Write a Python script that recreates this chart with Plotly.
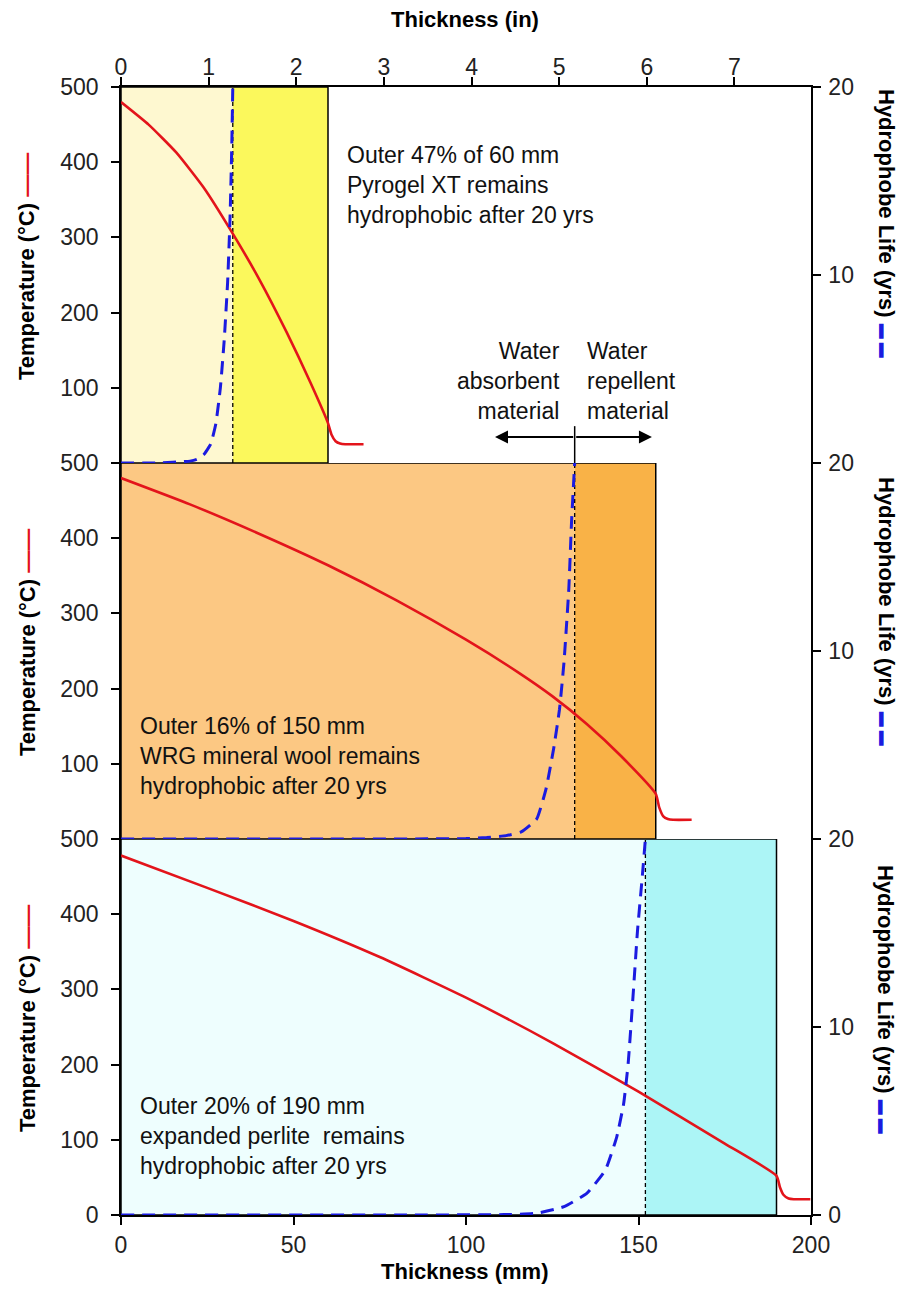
import plotly.graph_objects as go

# ---------------- data ----------------
mm_ticks = [0, 50, 100, 150, 200]
in_ticks = [0, 1, 2, 3, 4, 5, 6, 7]
temp_ticks_full = [0, 100, 200, 300, 400, 500]
life_ticks_full = [0, 10, 20]

# Panel 1 : Pyrogel XT, 60 mm
p1_thickness = 60.0
p1_boundary = 32.4
p1_temp_x = [0, 8, 16, 24, 32, 40, 48, 55, 60, 61, 62.2, 63.5, 65, 70.3]
p1_temp_y = [480, 450, 413, 366, 308, 245, 174, 106, 53, 38, 29, 26, 25, 25]
p1_life_x = [0, 10, 20, 22, 24, 26, 27.5, 28.8, 29.9, 30.9, 31.6, 32.1, 32.4]
p1_life_y = [0, 0, 0.1, 0.2, 0.45, 1.0, 2.1, 4.0, 6.5, 9.6, 13.0, 16.8, 20]
p1_text = "Outer 47% of 60 mm<br>Pyrogel XT remains<br>hydrophobic after 20 yrs"

# Panel 2 : WRG mineral wool, 150 mm
p2_thickness = 155.0
p2_boundary = 131.5
p2_temp_x = [0, 20, 40, 60, 80, 100, 115, 125, 135, 145, 155, 156, 157.2, 158.5, 160, 165.4]
p2_temp_y = [480, 445, 406, 364, 317, 265, 222, 190, 153, 110, 60, 42, 30, 26.5, 25.5, 25.5]
p2_life_x = [0, 60, 100, 106, 111.6, 116, 120.5, 123.2, 125.4, 127.1, 128.4, 129.8, 130.6, 131.5]
p2_life_y = [0, 0, 0.02, 0.08, 0.18, 0.38, 1.07, 2.67, 4.8, 6.9, 9.4, 13.3, 16.9, 20]
p2_text = "Outer 16% of 150 mm<br>WRG mineral wool remains<br>hydrophobic after 20 yrs"

# Panel 3 : expanded perlite, 190 mm
p3_thickness = 190.0
p3_boundary = 152.0
p3_temp_x = [0, 25, 50, 75, 100, 125, 150, 175, 190, 191, 192, 193.5, 195, 199.8]
p3_temp_y = [478, 435, 391, 343, 289, 229, 164, 95, 52, 37, 27, 22, 21, 21]
p3_life_x = [0, 80, 111, 120.4, 128.4, 135, 140.4, 143.7, 145.7, 147, 148.4, 149.7, 151, 152]
p3_life_y = [0, 0, 0.02, 0.09, 0.44, 1.15, 2.39, 4.16, 5.93, 8.05, 11.6, 15.1, 17.8, 20]
p3_text = "Outer 20% of 190 mm<br>expanded perlite\u00a0 remains<br>hydrophobic after 20 yrs"

# ---------------- style ----------------
W, H = 901, 1294
ML, MR, MT, MB = 121, 90, 87, 79
PW, PH = W - ML - MR, H - MT - MB
FONT = "Liberation Sans, Arial, sans-serif"
RED = "#e3141b"
BLUE = "#1b1be0"
TICK_SIZE = 23
TXT_SIZE = 23
TITLE_SIZE = 22


def px_x(p):
    return (p - ML) / PW


def px_y(p):
    return (H - MB - p) / PH


panels = [
    dict(thick=p1_thickness, bnd=p1_boundary, tx=p1_temp_x, ty=p1_temp_y,
         lx=p1_life_x, ly=p1_life_y, text=p1_text, light="#fef8d0", bright="#fbf85c",
         tpos=(65, 370), yl="y", yr="y2", dom=[2/3, 1]),
    dict(thick=p2_thickness, bnd=p2_boundary, tx=p2_temp_x, ty=p2_temp_y,
         lx=p2_life_x, ly=p2_life_y, text=p2_text, light="#fcc883", bright="#f9b247",
         tpos=(5, 110), yl="y3", yr="y4", dom=[1/3, 2/3]),
    dict(thick=p3_thickness, bnd=p3_boundary, tx=p3_temp_x, ty=p3_temp_y,
         lx=p3_life_x, ly=p3_life_y, text=p3_text, light="#eefefe", bright="#acf5f6",
         tpos=(5, 105), yl="y5", yr="y6", dom=[0, 1/3]),
]

fig = go.Figure()
shapes = []
annotations = []

for i, p in enumerate(panels):
    yl, yr = p["yl"], p["yr"]
    shapes.append(dict(type="rect", xref="x", yref=yl, x0=0, x1=p["bnd"], y0=0, y1=500,
                       fillcolor=p["light"], line=dict(width=0), layer="below"))
    shapes.append(dict(type="rect", xref="x", yref=yl, x0=p["bnd"], x1=p["thick"], y0=0, y1=500,
                       fillcolor=p["bright"], line=dict(width=0), layer="below"))
    shapes.append(dict(type="rect", xref="x", yref=yl, x0=0, x1=p["thick"], y0=0, y1=500,
                       fillcolor="rgba(0,0,0,0)", line=dict(color="black", width=1.5), layer="below"))
    shapes.append(dict(type="line", xref="x", yref=yl, x0=p["bnd"], x1=p["bnd"], y0=0, y1=500,
                       line=dict(color="black", width=1.3, dash="4px,3px"), layer="below"))

    fig.add_trace(go.Scatter(x=p["tx"], y=p["ty"], xaxis="x", yaxis=yl, mode="lines",
                             line=dict(color=RED, width=2.6, shape="spline", smoothing=0.5),
                             cliponaxis=False, showlegend=False, hoverinfo="skip"))
    fig.add_trace(go.Scatter(x=p["lx"], y=p["ly"], xaxis="x", yaxis=yr, mode="lines",
                             line=dict(color=BLUE, width=3, dash="13px,8px", shape="spline", smoothing=0.4),
                             cliponaxis=False, showlegend=False, hoverinfo="skip"))

    annotations.append(dict(xref="x", yref=yl, x=p["tpos"][0], y=p["tpos"][1], text=p["text"],
                            showarrow=False, xanchor="left", yanchor="middle", align="left",
                            font=dict(family=FONT, size=TXT_SIZE, color="#111")))

    top_px = MT + i * PH / 3
    annotations.append(dict(xref="paper", yref="paper", x=px_x(27), y=px_y(top_px + 180),
                            text="<b>Temperature (°C) <span style='color:%s'>——</span></b>" % RED,
                            textangle=-90, showarrow=False, xanchor="center", yanchor="middle",
                            font=dict(family=FONT, size=TITLE_SIZE, color="black")))
    annotations.append(dict(xref="paper", yref="paper", x=px_x(886), y=px_y(top_px + 136 + 12 * i),
                            text="<b>Hydrophobe Life (yrs) <span style='color:%s;font-size:15px'>▬ ▬</span></b>" % BLUE,
                            textangle=90, showarrow=False, xanchor="center", yanchor="middle",
                            font=dict(family=FONT, size=TITLE_SIZE, color="black")))

# dummy trace so the top inch axis is drawn
fig.add_trace(go.Scatter(x=[0], y=[0], xaxis="x2", yaxis="y", mode="markers",
                         marker=dict(opacity=0), showlegend=False, hoverinfo="skip"))

annotations.append(dict(xref="x", yref="y", x=127.8, y=109, text="Water<br>absorbent<br>material",
                        showarrow=False, xanchor="right", yanchor="middle", align="right",
                        font=dict(family=FONT, size=TXT_SIZE, color="#111")))
annotations.append(dict(xref="x", yref="y", x=134.5, y=109, text="Water<br>repellent<br>material",
                        showarrow=False, xanchor="left", yanchor="middle", align="left",
                        font=dict(family=FONT, size=TXT_SIZE, color="#111")))
for tip in (108.4, 153.9):
    annotations.append(dict(xref="x", yref="y", axref="x", ayref="y", x=tip, y=34.6,
                            ax=p2_boundary, ay=34.6, text="", showarrow=True,
                            arrowhead=2, arrowsize=1.3, arrowwidth=2, arrowcolor="black"))
shapes.append(dict(type="line", xref="x", yref="y", x0=p2_boundary, x1=p2_boundary, y0=0, y1=49,
                   line=dict(color="black", width=1.5)))

annotations.append(dict(xref="paper", yref="paper", x=px_x(465), y=px_y(19.5), text="<b>Thickness (in)</b>",
                        showarrow=False, xanchor="center", yanchor="middle",
                        font=dict(family=FONT, size=TITLE_SIZE, color="black")))
annotations.append(dict(xref="paper", yref="paper", x=px_x(465), y=px_y(1271), text="<b>Thickness (mm)</b>",
                        showarrow=False, xanchor="center", yanchor="middle",
                        font=dict(family=FONT, size=TITLE_SIZE, color="black")))

axis_common = dict(showgrid=False, zeroline=False, showline=True, linecolor="black", linewidth=1.5,
                   ticks="outside", ticklen=8, tickwidth=1.5, tickcolor="black",
                   tickfont=dict(family=FONT, size=TICK_SIZE, color="#222"), automargin=False)

layout = dict(
    width=W, height=H, margin=dict(l=ML, r=MR, t=MT, b=MB, pad=0),
    paper_bgcolor="white", plot_bgcolor="white",
    shapes=shapes, annotations=annotations, showlegend=False,
    xaxis=dict(range=[0, 200], domain=[0, 1], anchor="y5", tickvals=mm_ticks,
               ticklabelstandoff=1, **axis_common),
    xaxis2=dict(range=[0, 200 / 25.4], overlaying="x", side="top", anchor="y",
                tickvals=in_ticks, ticklabelstandoff=-7, **axis_common),
)
for i, p in enumerate(panels):
    last = (i == 2)
    tv = temp_ticks_full if last else temp_ticks_full[1:]
    lv = life_ticks_full if last else life_ticks_full[1:]
    ln = p["yl"][1:]
    layout["yaxis" + ln] = dict(range=[0, 500], domain=p["dom"], anchor="x", side="left",
                                tickvals=tv, ticklabelstandoff=8, **axis_common)
    rn = p["yr"][1:]
    layout["yaxis" + rn] = dict(range=[0, 20], overlaying=p["yl"], anchor="x", side="right",
                                tickvals=lv, ticklabelstandoff=3, **axis_common)

fig.update_layout(**layout)
fig.write_html("out.html", config={"displayModeBar": False},
               post_script="document.body.style.margin='0';")
